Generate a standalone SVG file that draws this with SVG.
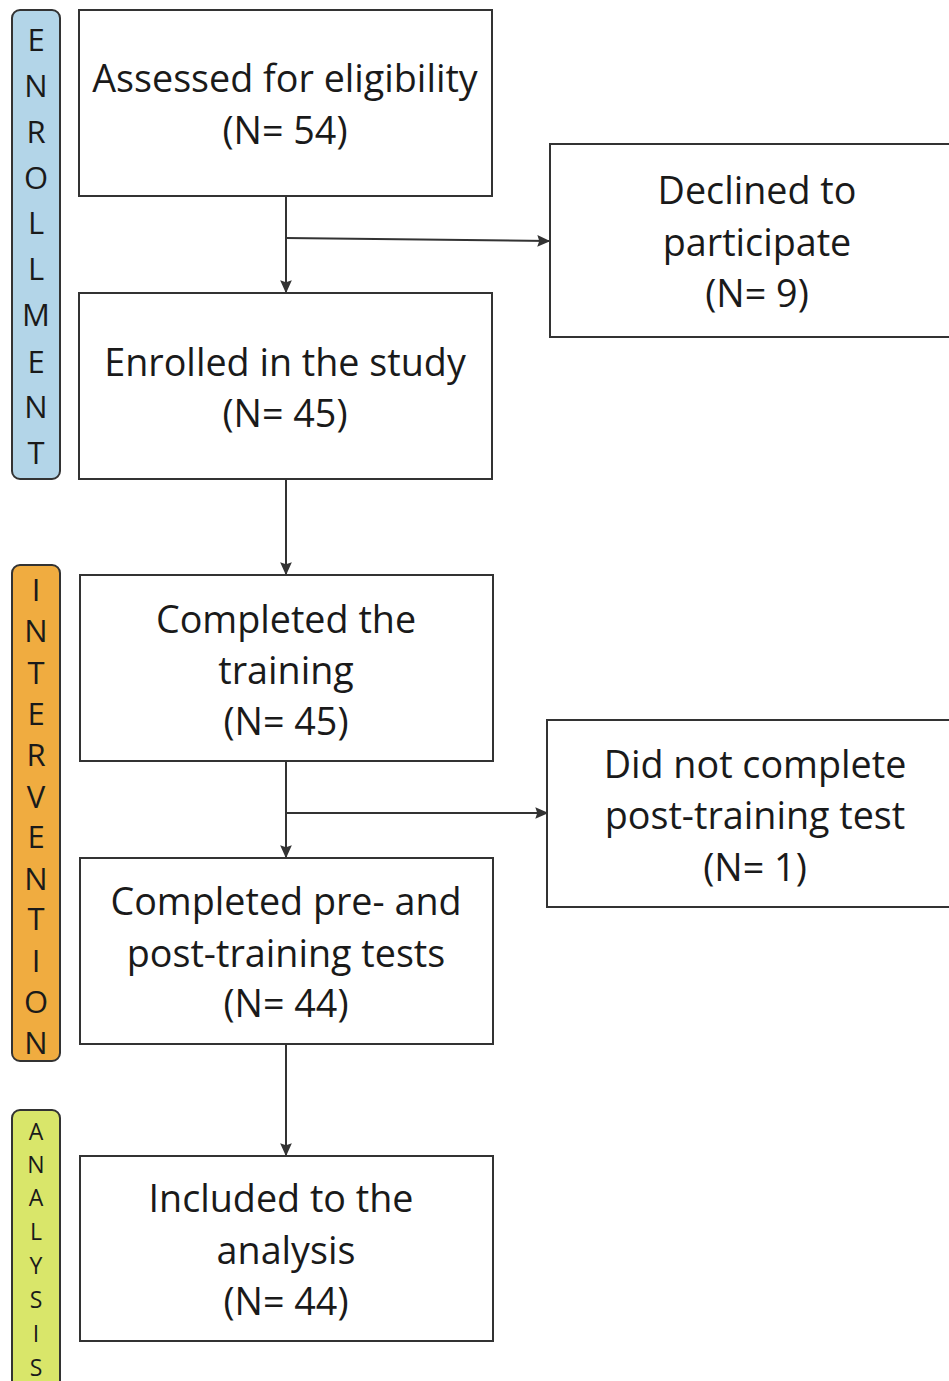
<svg xmlns="http://www.w3.org/2000/svg" width="949" height="1381" viewBox="0 0 949 1381">
<defs>
<style>
.box{fill:#fff;stroke:#333;stroke-width:2}
.t{font-family:"Open Sans","Noto Sans",sans-serif;font-size:37.7px;fill:#1a1a1a;text-anchor:middle}
.s{font-family:"Open Sans","Noto Sans",sans-serif;font-size:31px;fill:#1a1a1a;text-anchor:middle}
.sa{font-family:"Open Sans","Noto Sans",sans-serif;font-size:23px;fill:#1a1a1a;text-anchor:middle}
.c{fill:none;stroke:#333;stroke-width:2}
.bar{stroke:#333;stroke-width:2}
</style>
<marker id="ah" viewBox="0 0 10 10" refX="9" refY="5" markerWidth="13" markerHeight="13" orient="auto" markerUnits="userSpaceOnUse">
<path d="M0,0.5 L10,5 L0,9.5 L1.5,5 z" fill="#333"/>
</marker>
</defs>
<rect width="949" height="1381" fill="#fff"/>
<g id="bar-enrollment">
<rect class="bar" x="12" y="10" width="48" height="469" rx="8" fill="#b3d5e8"/>
<text class="s" x="36" y="51">E</text>
<text class="s" x="36" y="97">N</text>
<text class="s" x="36" y="143">R</text>
<text class="s" x="36" y="189">O</text>
<text class="s" x="36" y="234">L</text>
<text class="s" x="36" y="280">L</text>
<text class="s" x="36" y="326">M</text>
<text class="s" x="36" y="373">E</text>
<text class="s" x="36" y="418">N</text>
<text class="s" x="36" y="464">T</text>
</g>
<g id="bar-intervention">
<rect class="bar" x="12" y="565" width="48" height="496" rx="8" fill="#f0ac40"/>
<text class="s" x="36" y="601">I</text>
<text class="s" x="36" y="642">N</text>
<text class="s" x="36" y="684">T</text>
<text class="s" x="36" y="725">E</text>
<text class="s" x="36" y="766">R</text>
<text class="s" x="36" y="808">V</text>
<text class="s" x="36" y="848">E</text>
<text class="s" x="36" y="890">N</text>
<text class="s" x="36" y="930">T</text>
<text class="s" x="36" y="972">I</text>
<text class="s" x="36" y="1013">O</text>
<text class="s" x="36" y="1054">N</text>
</g>
<g id="bar-analysis">
<rect class="bar" x="12" y="1110" width="48" height="290" rx="8" fill="#d9e66a"/>
<text class="sa" x="36" y="1140">A</text>
<text class="sa" x="36" y="1173">N</text>
<text class="sa" x="36" y="1206">A</text>
<text class="sa" x="36" y="1240">L</text>
<text class="sa" x="36" y="1274">Y</text>
<text class="sa" x="36" y="1308">S</text>
<text class="sa" x="36" y="1342">I</text>
<text class="sa" x="36" y="1376">S</text>
</g>
<g id="connectors">
<line class="c" x1="286" y1="197" x2="286" y2="292" marker-end="url(#ah)"/>
<line class="c" x1="286" y1="238" x2="549" y2="241" marker-end="url(#ah)"/>
<line class="c" x1="286" y1="480" x2="286" y2="574" marker-end="url(#ah)"/>
<line class="c" x1="286" y1="762" x2="286" y2="857" marker-end="url(#ah)"/>
<line class="c" x1="286" y1="813" x2="547" y2="813" marker-end="url(#ah)"/>
<line class="c" x1="286" y1="1045" x2="286" y2="1155" marker-end="url(#ah)"/>
</g>
<g id="n-assessed">
<rect class="box" x="79" y="10" width="413" height="186"/>
<text class="t" x="285" y="92">Assessed for eligibility</text>
<text class="t" x="285" y="144">(N= 54)</text>
</g>
<g id="n-declined">
<rect class="box" x="550" y="144" width="410" height="193"/>
<text class="t" x="757" y="204">Declined to</text>
<text class="t" x="757" y="256">participate</text>
<text class="t" x="757" y="307">(N= 9)</text>
</g>
<g id="n-enrolled">
<rect class="box" x="79" y="293" width="413" height="186"/>
<text class="t" x="285" y="376">Enrolled in the study</text>
<text class="t" x="285" y="427">(N= 45)</text>
</g>
<g id="n-training">
<rect class="box" x="80" y="575" width="413" height="186"/>
<text class="t" x="286" y="633">Completed the</text>
<text class="t" x="286" y="684">training</text>
<text class="t" x="286" y="735">(N= 45)</text>
</g>
<g id="n-notcomplete">
<rect class="box" x="547" y="720" width="413" height="187"/>
<text class="t" x="755" y="778">Did not complete</text>
<text class="t" x="755" y="829">post-training test</text>
<text class="t" x="755" y="881">(N= 1)</text>
</g>
<g id="n-tests">
<rect class="box" x="80" y="858" width="413" height="186"/>
<text class="t" x="286" y="915">Completed pre- and</text>
<text class="t" x="286" y="967">post-training tests</text>
<text class="t" x="286" y="1017">(N= 44)</text>
</g>
<g id="n-analysis">
<rect class="box" x="80" y="1156" width="413" height="185"/>
<text class="t" x="281" y="1212">Included to the</text>
<text class="t" x="286" y="1264">analysis</text>
<text class="t" x="286" y="1315">(N= 44)</text>
</g>
</svg>
